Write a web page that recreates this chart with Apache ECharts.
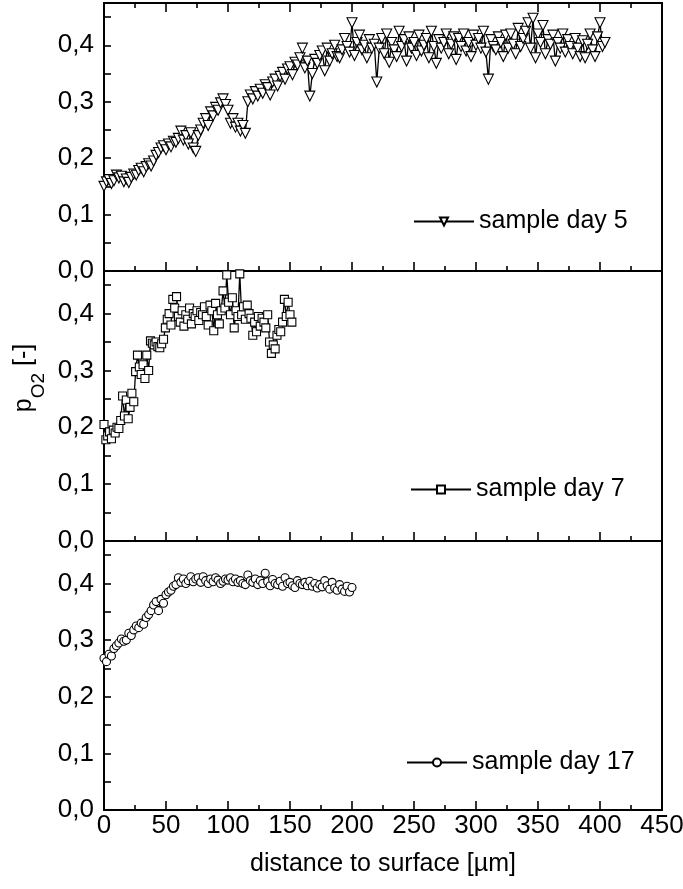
<!DOCTYPE html>
<html>
<head>
<meta charset="utf-8">
<title>pO2 profiles</title>
<script src="https://cdn.jsdelivr.net/npm/echarts@6/dist/echarts.min.js"></script>
<style>
html,body{margin:0;padding:0;background:#fff}
#chart{width:683px;height:889px}
</style>
</head>
<body>
<div id="chart"></div>
<script>
// depth grid of each profile [µm]
const day5Start=0, day5Step=2;
const day7Start=0, day7Step=1.5;
const day17Start=0, day17Step=2;

// oxygen partial pressure [-]
const day5Values=[
    0.150,0.158,0.162,0.155,0.160,0.170,0.165,0.168,0.158,0.163,
    0.157,0.166,0.172,0.170,0.178,0.182,0.176,0.185,0.190,0.186,
    0.195,0.205,0.210,0.218,0.222,0.215,0.225,0.220,0.230,0.228,
    0.235,0.248,0.232,0.240,0.225,0.245,0.218,0.212,0.240,0.250,
    0.262,0.270,0.258,0.282,0.275,0.290,0.285,0.298,0.305,0.295,
    0.285,0.262,0.270,0.255,0.262,0.248,0.258,0.244,0.300,0.312,
    0.305,0.318,0.310,0.322,0.315,0.330,0.325,0.312,0.335,0.340,
    0.328,0.345,0.352,0.340,0.358,0.362,0.348,0.370,0.365,0.378,
    0.395,0.360,0.372,0.310,0.350,0.375,0.368,0.382,0.390,0.355,
    0.395,0.372,0.385,0.400,0.380,0.378,0.392,0.412,0.398,0.388,
    0.440,0.382,0.405,0.418,0.392,0.400,0.378,0.410,0.395,0.402,
    0.335,0.395,0.412,0.385,0.420,0.370,0.405,0.392,0.380,0.425,
    0.398,0.410,0.372,0.415,0.395,0.405,0.382,0.418,0.390,0.400,
    0.412,0.378,0.425,0.398,0.368,0.410,0.395,0.405,0.420,0.385,
    0.402,0.415,0.375,0.412,0.398,0.420,0.390,0.405,0.380,0.418,
    0.400,0.412,0.395,0.425,0.388,0.340,0.410,0.398,0.392,0.415,
    0.405,0.380,0.418,0.395,0.420,0.402,0.385,0.430,0.398,0.412,
    0.425,0.440,0.395,0.448,0.378,0.420,0.405,0.435,0.385,0.410,
    0.402,0.418,0.372,0.405,0.395,0.420,0.388,0.410,0.398,0.385,
    0.412,0.395,0.380,0.408,0.378,0.402,0.420,0.392,0.380,0.415,
    0.440,0.398,0.405
];

const day7Values=[
    0.205,0.178,0.185,0.192,0.180,0.195,0.190,0.200,0.198,0.212,
    0.255,0.220,0.248,0.215,0.235,0.260,0.245,0.298,0.327,0.306,
    0.293,0.310,0.286,0.327,0.300,0.352,0.348,0.345,0.350,0.342,
    0.340,0.347,0.355,0.375,0.390,0.400,0.380,0.425,0.410,0.430,
    0.395,0.385,0.405,0.378,0.398,0.390,0.410,0.382,0.400,0.395,
    0.405,0.388,0.402,0.398,0.412,0.395,0.380,0.415,0.405,0.370,
    0.418,0.398,0.382,0.405,0.440,0.410,0.468,0.420,0.398,0.428,
    0.375,0.405,0.395,0.470,0.398,0.412,0.390,0.415,0.400,0.392,
    0.362,0.385,0.368,0.395,0.378,0.392,0.385,0.375,0.398,0.350,
    0.330,0.345,0.338,0.362,0.372,0.368,0.385,0.425,0.395,0.420,
    0.398,0.385
];

const day17Values=[
    0.268,0.262,0.275,0.272,0.285,0.290,0.295,0.302,0.298,0.300,
    0.312,0.308,0.318,0.325,0.322,0.330,0.328,0.340,0.345,0.352,
    0.362,0.368,0.352,0.372,0.365,0.380,0.385,0.388,0.395,0.398,
    0.410,0.402,0.408,0.400,0.405,0.412,0.403,0.408,0.410,0.402,
    0.412,0.405,0.400,0.408,0.403,0.410,0.406,0.400,0.404,0.408,
    0.406,0.410,0.403,0.408,0.402,0.405,0.400,0.398,0.415,0.405,
    0.402,0.408,0.398,0.405,0.400,0.418,0.403,0.396,0.407,0.400,
    0.398,0.404,0.395,0.410,0.400,0.402,0.396,0.393,0.405,0.400,
    0.398,0.402,0.396,0.404,0.395,0.400,0.392,0.398,0.394,0.405,
    0.396,0.390,0.402,0.392,0.388,0.398,0.390,0.386,0.395,0.385,
    0.393
];

const seriesNames=["sample day 5","sample day 7","sample day 17"];
const xTickLabels=["0","50","100","150","200","250","300","350","400","450"];

function toPairs(start,step,values){
    return values.map((v,i)=>[start+i*step,v]);
}

const chart=echarts.init(document.getElementById("chart"),null,{renderer:"canvas"});

const tickFont="'Liberation Sans Narrow','Arial Narrow','Liberation Sans',Arial,sans-serif";
const textFont="'Liberation Sans',Arial,sans-serif";

const panels=[
    {top:3,height:268},
    {top:271,height:270},
    {top:541,height:269}
];

const grids=panels.map(p=>({
    left:104,
    width:558,
    top:p.top,
    height:p.height,
    show:true,
    borderColor:"#000",
    borderWidth:2,
    backgroundColor:"transparent",
    containLabel:false,
    outerBoundsMode:"none"
}));

function xAxisFor(gridIndex,position,withLabels){
    return {
        type:"value",
        gridIndex:gridIndex,
        position:position,
        min:0,
        max:450,
        interval:50,
        axisLine:{show:true,lineStyle:{color:"#000",width:2}},
        axisTick:{show:true,inside:true,length:9,lineStyle:{color:"#000",width:1.6}},
        minorTick:{show:true,splitNumber:2,length:5,lineStyle:{color:"#000",width:1.6}},
        splitLine:{show:false},
        minorSplitLine:{show:false},
        axisLabel:{
            show:withLabels,
            margin:3,
            color:"#000",
            fontFamily:tickFont,
            fontSize:26,
            formatter:v=>xTickLabels[Math.round(v/50)]||""
        },
        name:withLabels?"distance to surface [µm]":"",
        nameLocation:"middle",
        nameGap:42,
        nameTextStyle:{color:"#000",fontFamily:textFont,fontSize:25}
    };
}

function yAxisFor(gridIndex){
    return {
        type:"value",
        gridIndex:gridIndex,
        min:0,
        max:0.475,
        interval:0.05,
        axisLine:{show:true,lineStyle:{color:"#000",width:2}},
        axisTick:{show:true,inside:true,length:7,lineStyle:{color:"#000",width:1.6}},
        splitLine:{show:false},
        axisLabel:{
            show:true,
            margin:10,
            showMaxLabel:false,
            color:"#000",
            fontFamily:tickFont,
            fontSize:26,
            formatter:v=>{
                const r=Math.round(v*100);
                return r%10===0?(r/100).toFixed(1).replace(".",","):"";
            }
        }
    };
}

function profileSeries(name,xIndex,yIndex,symbol,size,rotate,data){
    return {
        name:name,
        type:"line",
        xAxisIndex:xIndex,
        yAxisIndex:yIndex,
        data:data,
        symbol:symbol,
        symbolSize:size,
        symbolRotate:rotate,
        showSymbol:true,
        showAllSymbol:true,
        sampling:null,
        color:"#000",
        lineStyle:{color:"#000",width:1.3},
        itemStyle:{color:"#fff",borderColor:"#000",borderWidth:1.1},
        emphasis:{disabled:true},
        animation:false
    };
}

const legendBase={
    orient:"horizontal",
    padding:0,
    itemGap:0,
    itemWidth:60,
    itemHeight:10,
    selectedMode:false,
    lineStyle:{width:2,color:"#000"},
    textStyle:{color:"#000",fontFamily:textFont,fontSize:25}
};

chart.setOption({
    backgroundColor:"#fff",
    animation:false,
    grid:grids,
    xAxis:[
        xAxisFor(0,"bottom",false),
        xAxisFor(0,"top",false),
        xAxisFor(1,"bottom",false),
        xAxisFor(2,"bottom",true)
    ],
    yAxis:[yAxisFor(0),yAxisFor(1),yAxisFor(2)],
    legend:[
        Object.assign({},legendBase,{data:[seriesNames[0]],left:413,top:209}),
        Object.assign({},legendBase,{data:[seriesNames[1]],left:410,top:477}),
        Object.assign({},legendBase,{data:[seriesNames[2]],left:406,top:750})
    ],
    series:[
        profileSeries(seriesNames[0],0,0,"triangle",10,180,toPairs(day5Start,day5Step,day5Values)),
        profileSeries(seriesNames[1],2,1,"rect",8,0,toPairs(day7Start,day7Step,day7Values)),
        profileSeries(seriesNames[2],3,2,"circle",8,0,toPairs(day17Start,day17Step,day17Values))
    ],
    // y title with subscript: "p" on top of the line box, "O2" pushed to its bottom
    graphic:[{
        type:"text",
        x:30,
        y:378,
        rotation:Math.PI/2,
        style:{
            text:"{a|p}{b|O2}{a| [-]}",
            align:"center",
            verticalAlign:"middle",
            fill:"#000",
            rich:{
                a:{fontFamily:textFont,fontSize:25,lineHeight:28,verticalAlign:"top",fill:"#000"},
                b:{fontFamily:textFont,fontSize:19,lineHeight:36,verticalAlign:"bottom",fill:"#000"}
            }
        }
    }]
});

window.addEventListener("resize",()=>chart.resize());
</script>
</body>
</html>
